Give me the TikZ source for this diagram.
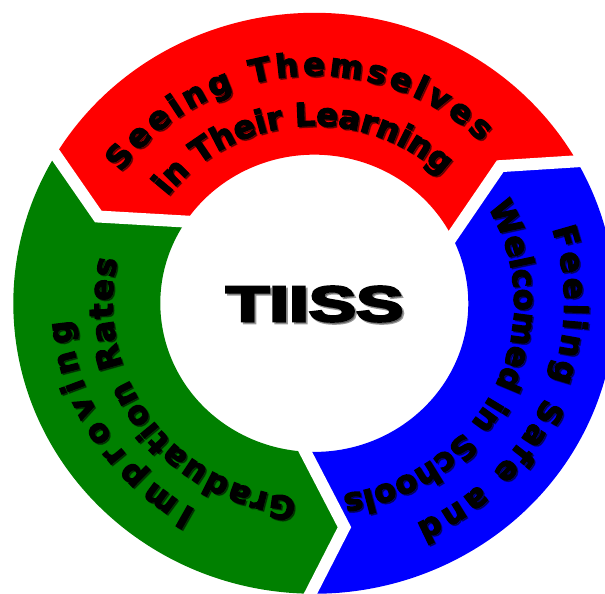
\documentclass[tikz,border=0pt]{standalone}
\usepackage{fontspec}
\setmainfont{Liberation Sans}[BoldFeatures={FakeBold=4.5}]
\newfontfamily\ringface{DejaVu Sans}[BoldFeatures={FakeBold=4}]
\usetikzlibrary{decorations.text}
\definecolor{segred}{RGB}{255,0,0}
\definecolor{segblue}{RGB}{0,0,255}
\definecolor{seggreen}{RGB}{0,128,0}
\newcommand{\ringfont}{\ringface\bfseries\fontsize{32}{32}\selectfont}
\newcommand{\hubfont}{\fontsize{50}{50}\selectfont\bfseries}

\begin{document}
\begin{tikzpicture}[x=1pt, y=1pt,
        gap/.style={draw=white, line width=12pt, line join=miter},
        ringtext/.style={decorate, decoration={text along path,
            text align={fit to path}, text={|\ringfont|#1}}}]
    \useasboundingbox (-314.3,-290.7) rectangle (290.7,303.3);
    \begin{scope}[yscale=0.965]
        %% Segments
        \fill [segred] (149.2:301) arc [start angle=149.2, end angle=29.2, radius=301]
            -- (37.4:234) -- (26.7:154) arc [start angle=26.7, end angle=146.7, radius=154]
            -- (157.4:234) -- cycle;
        \fill [segblue] (29.2:301) arc [start angle=29.2, end angle=-90.8, radius=301]
            -- (-82.6:234) -- (-93.3:154) arc [start angle=-93.3, end angle=26.7, radius=154]
            -- (37.4:234) -- cycle;
        \fill [seggreen] (269.2:301) arc [start angle=269.2, end angle=149.2, radius=301]
            -- (157.4:234) -- (146.7:154) arc [start angle=146.7, end angle=266.7, radius=154]
            -- (277.4:234) -- cycle;
        %% Gaps
        \draw [gap] (27.5:322) -- (37.4:234) -- (23.1:139.4);
        \draw [gap] (147.5:322) -- (157.4:234) -- (143.1:139.4);
        \draw [gap] (267.5:322) -- (277.4:234) -- (263.1:139.4);
        %% Shadows of the labels
        \begin{scope}[shift={(1.5,-1.5)}, opacity=0.45]
            \path [ringtext={Seeing Themselves}] (145:236) arc [start angle=145, end angle=45, radius=236];
            \path [ringtext={in Their Learning}] (143:184) arc [start angle=143, end angle=46, radius=184];
            \path [ringtext={Feeling Safe and}] (18:250) arc [start angle=18, end angle=-66, radius=250];
            \path [ringtext={Welcomed in Schools}] (30:200) arc [start angle=30, end angle=-80, radius=200];
            \path [ringtext={Improving}] (241:245) arc [start angle=241, end angle=184, radius=245];
            \path [ringtext={Graduation Rates}] (265:202) arc [start angle=265, end angle=167, radius=202];
        \end{scope}
        %% Labels
        \path [ringtext={Seeing Themselves}] (145:236) arc [start angle=145, end angle=45, radius=236];
        \path [ringtext={in Their Learning}] (143:184) arc [start angle=143, end angle=46, radius=184];
        \path [ringtext={Feeling Safe and}] (18:250) arc [start angle=18, end angle=-66, radius=250];
        \path [ringtext={Welcomed in Schools}] (30:200) arc [start angle=30, end angle=-80, radius=200];
        \path [ringtext={Improving}] (241:245) arc [start angle=241, end angle=184, radius=245];
        \path [ringtext={Graduation Rates}] (265:202) arc [start angle=265, end angle=167, radius=202];
    \end{scope}
    %% Hub
    \node [opacity=0.4] (hubshadow) at (2.4,-2.7) {\scalebox{1.42}[1]{\hubfont TIISS}};
    \node (hub) at (0.4,-0.7) {\scalebox{1.42}[1]{\hubfont TIISS}};
\end{tikzpicture}
\end{document}
